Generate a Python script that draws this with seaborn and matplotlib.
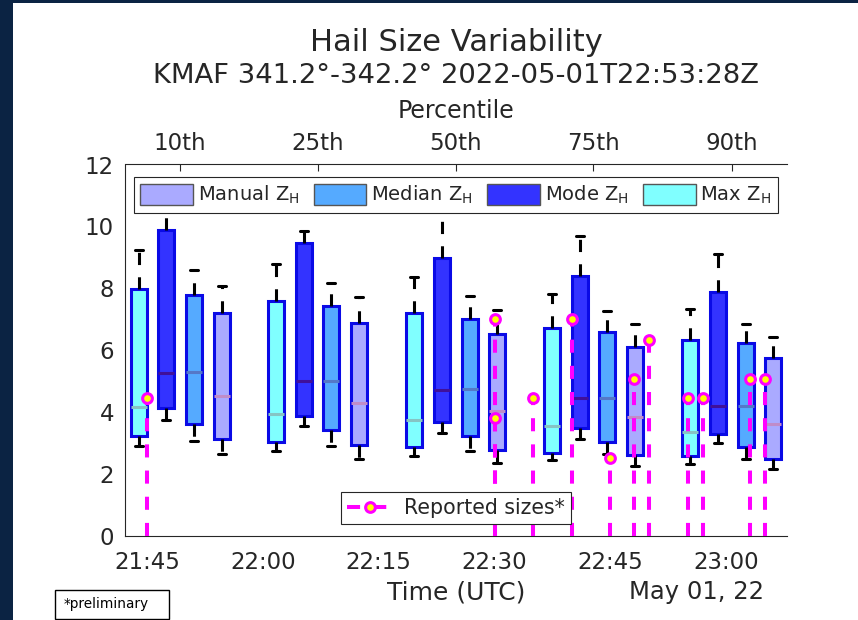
import numpy as np
import pandas as pd
import matplotlib
matplotlib.use("Agg")
import matplotlib.pyplot as plt
from matplotlib.patches import Patch, Rectangle
from matplotlib.lines import Line2D
import seaborn as sns

# ---------------- data ----------------
percentile_labels = ["10th", "25th", "50th", "75th", "90th"]
group_minutes = [4.3, 22.1, 40.0, 57.8, 75.7]          # minutes after 21:45 UTC
time_ticks_min = [0, 15, 30, 45, 60, 75]
time_tick_labels = ["21:45", "22:00", "22:15", "22:30", "22:45", "23:00"]

methods = ["Max", "Mode", "Median", "Manual"]           # left-to-right order in each group
# five-number summaries per percentile group: whisker low, q1, median, q3, whisker high (cm)
max_zh = [[2.92, 3.24, 4.19, 7.97, 9.23],
          [2.75, 3.05, 3.96, 7.60, 8.80],
          [2.59, 2.90, 3.74, 7.21, 8.37],
          [2.45, 2.70, 3.55, 6.74, 7.81],
          [2.35, 2.60, 3.37, 6.35, 7.33]]
mode_zh = [[3.76, 4.14, 5.28, 9.90, 10.9],
           [3.57, 3.89, 5.03, 9.47, 9.85],
           [3.34, 3.69, 4.73, 8.99, 10.7],
           [3.15, 3.50, 4.45, 8.41, 9.69],
           [3.01, 3.30, 4.22, 7.88, 9.10]]
median_zh = [[3.08, 3.64, 5.29, 7.78, 8.60],
             [2.93, 3.44, 5.02, 7.42, 8.19],
             [2.75, 3.23, 4.76, 7.03, 7.76],
             [2.65, 3.03, 4.45, 6.58, 7.26],
             [2.49, 2.90, 4.22, 6.23, 6.85]]
manual_zh = [[2.67, 3.14, 4.53, 7.21, 8.08],
             [2.50, 2.95, 4.30, 6.87, 7.71],
             [2.38, 2.78, 4.06, 6.53, 7.32],
             [2.26, 2.62, 3.85, 6.10, 6.85],
             [2.17, 2.51, 3.64, 5.76, 6.44]]

report_minutes = [0, 45, 45, 50, 55, 60, 63, 65, 70, 72, 78, 80]
report_sizes = [4.45, 7.0, 3.81, 4.45, 7.0, 2.54, 5.08, 6.35, 4.45, 4.45, 5.08, 5.08]

# ---------------- styles ----------------
face = {"Max": "#80ffff", "Mode": "#3333ff", "Median": "#55aaff", "Manual": "#aaaaff"}
med_col = {"Max": "#86c4c4", "Mode": "#40109a", "Median": "#5578c8", "Manual": "#c08cc8"}
label = {"Max": r"Max Z$_\mathregular{H}$", "Mode": r"Mode Z$_\mathregular{H}$",
         "Median": r"Median Z$_\mathregular{H}$", "Manual": r"Manual Z$_\mathregular{H}$"}
summ = {"Max": max_zh, "Mode": mode_zh, "Median": median_zh, "Manual": manual_zh}
inner_step = 3.58       # minutes between boxes inside a group
box_w = 2.07            # minutes
TXT = "#262626"

rows = []
for mi, m in enumerate(methods):
    for gi, g in enumerate(group_minutes):
        pos = g + (mi - 1.5) * inner_step
        for v in summ[m][gi]:
            rows.append({"method": m, "time": pos, "size": v})
df = pd.DataFrame(rows)

sns.set_style("white")
plt.rcParams["font.family"] = ["DejaVu Sans"]
plt.rcParams["mathtext.fontset"] = "dejavusans"

fig = plt.figure(figsize=(8.58, 6.2), dpi=100)
ax = fig.add_axes([124.8 / 858, 1 - 536.4 / 620, (787 - 124.8) / 858, (536.4 - 164.5) / 620])

native = np.diff(sorted(group_minutes)).min()
for m in methods:
    sub = df[df["method"] == m]
    sns.boxplot(data=sub, x="time", y="size", native_scale=True, orient="x",
                whis=(0, 100), width=box_w / native, color=face[m], saturation=1,
                fliersize=0, ax=ax,
                boxprops=dict(facecolor=face[m], edgecolor="#0a0ae6", linewidth=2.2),
                medianprops=dict(color=med_col[m], linewidth=2.2),
                whiskerprops=dict(color="black", linewidth=2.2, linestyle=(0, (4, 4))),
                capprops=dict(color="black", linewidth=2.2))

# reported sizes
for t, s in zip(report_minutes, report_sizes):
    ax.plot([t, t], [0, s], color="#ff00ff", lw=2.9, linestyle=(0, (3.25, 3.25)), zorder=5)
ax.plot(report_minutes, report_sizes, linestyle="none", marker="o", ms=7, mew=2.2,
        mfc="#ffff00", mec="#ff00ff", zorder=6)

ax.set_xlim(-2.85, 82.85)
ax.set_ylim(0, 12)
ax.set_yticks(range(0, 13, 2))
ax.set_xticks(time_ticks_min, labels=time_tick_labels)
ax.set_ylabel("")
ax.set_xlabel("Time (UTC)", fontsize=18, color=TXT, labelpad=5)
ax.tick_params(axis="x", direction="in", length=5, pad=10.5, labelsize=16.5, colors=TXT, width=0.8)
ax.tick_params(axis="y", direction="in", length=5, pad=7.8, labelsize=16.5, colors=TXT, width=0.8)
ax.spines["right"].set_visible(False)
ax.spines["top"].set_visible(False)
for sp in ("left", "bottom"):
    ax.spines[sp].set_color(TXT)
    ax.spines[sp].set_linewidth(0.8)

secax = ax.secondary_xaxis("top")
secax.set_xticks(group_minutes, labels=percentile_labels)
secax.tick_params(direction="in", length=5, pad=7, labelsize=16.5, colors=TXT, width=0.8)
secax.spines["top"].set_color(TXT)
secax.spines["top"].set_linewidth(0.8)
secax.set_xlabel("Percentile", fontsize=17, color=TXT, labelpad=10)

# legends
leg_order = ["Manual", "Median", "Mode", "Max"]
handles = [Patch(facecolor=face[m], edgecolor="#555555", linewidth=1.0) for m in leg_order]
leg1 = ax.legend(handles, [label[m] for m in leg_order], ncol=4, loc="upper center",
                 bbox_to_anchor=(0.5, 0.966), fontsize=14, frameon=True, fancybox=False,
                 framealpha=1, edgecolor=TXT, handlelength=2.7, handleheight=1.3,
                 handletextpad=0.25, columnspacing=0.75, borderpad=0.35, borderaxespad=0)
leg1.get_frame().set_linewidth(0.8)
leg1.set_zorder(10)
ax.add_artist(leg1)

rep_handle = Line2D([], [], color="#ff00ff", lw=2.9, linestyle=(0, (3.25, 3.25)), marker="o",
                    ms=7, mew=2.2, mfc="#ffff00", mec="#ff00ff")
leg2 = ax.legend([rep_handle], ["Reported sizes*"], loc="center", bbox_to_anchor=(0.5, 0.076),
                 fontsize=14.8, frameon=True, fancybox=False, framealpha=1, edgecolor=TXT,
                 handlelength=2.3, handletextpad=0.5, borderpad=0.3, borderaxespad=0)
leg2.get_frame().set_linewidth(0.8)
leg2.set_zorder(10)

# titles and annotations
cx = (124.8 + 787) / 2 / 858
fig.text(cx, 1 - 51 / 620, "Hail Size Variability", ha="center", va="baseline",
         fontsize=22, color=TXT)
fig.text(cx, 1 - 83.3 / 620, "KMAF 341.2°-342.2° 2022-05-01T22:53:28Z", ha="center",
         va="baseline", fontsize=19.7, color=TXT)
fig.text(696.5 / 858, 1 - 599.3 / 620, "May 01, 22", ha="center", va="baseline",
         fontsize=17.5, color=TXT)

fig.add_artist(Rectangle((55.3 / 858, 1 - 619 / 620), 113.3 / 858, 29.3 / 620,
                         transform=fig.transFigure, facecolor="white", edgecolor="black", lw=1))
fig.text(64 / 858, 1 - 608 / 620, "*preliminary", ha="left", va="baseline", fontsize=9.8,
         color="black")

# dark page border strips
fig.add_artist(Rectangle((0, 0), 13 / 858, 1, transform=fig.transFigure,
                         facecolor="#0b2343", edgecolor="none"))
fig.add_artist(Rectangle((0, 1 - 2.5 / 620), 1, 2.5 / 620, transform=fig.transFigure,
                         facecolor="#0b2343", edgecolor="none"))

fig.savefig("out.png", dpi=100)
